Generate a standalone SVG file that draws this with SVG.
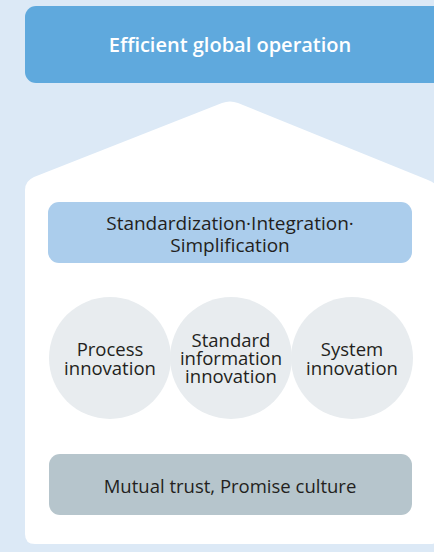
<svg xmlns="http://www.w3.org/2000/svg" width="434" height="552" viewBox="0 0 434 552">
<style>
.t{font-family:"Open Sans","Noto Sans",sans-serif;text-anchor:middle;fill:#231f20;font-size:18.5px}
.w{fill:#ffffff;font-weight:600;font-size:20px}
.s{font-size:19px}
</style>
<rect x="0" y="0" width="434" height="552" fill="#dce9f6"/>
<g id="goal">
<rect x="25" y="6" width="420" height="77" rx="11" fill="#5fa9dd"/>
<text class="t w" x="230" y="52">Efficient global operation</text>
</g>
<g id="house">
<path d="M25 190 Q25 181 34 177 L222 103 Q230 100 238 103 L428 180 Q440 185 440 195 L440 534 Q440 544 430 544 L35 544 Q25 544 25 534 Z" fill="#ffffff"/>
</g>
<g id="standardization">
<rect x="48" y="202" width="364" height="61" rx="11" fill="#abcdec"/>
<text class="t s" x="230" y="230">Standardization·Integration·</text>
<text class="t s" x="230" y="252">Simplification</text>
</g>
<g id="process">
<circle cx="110" cy="358" r="61" fill="#e8ecef"/>
<text class="t" x="110" y="356">Process</text>
<text class="t" x="110" y="375">innovation</text>
</g>
<g id="standard-info">
<circle cx="231" cy="358" r="61" fill="#e8ecef"/>
<text class="t" x="231" y="347">Standard</text>
<text class="t" x="231" y="365">information</text>
<text class="t" x="231" y="383">innovation</text>
</g>
<g id="system">
<circle cx="352" cy="358" r="61" fill="#e8ecef"/>
<text class="t" x="352" y="356">System</text>
<text class="t" x="352" y="375">innovation</text>
</g>
<g id="culture">
<rect x="49" y="454" width="363" height="61" rx="11" fill="#b6c5cc"/>
<text class="t" x="230" y="493">Mutual trust, Promise culture</text>
</g>
<g id="connectors"></g>
</svg>
